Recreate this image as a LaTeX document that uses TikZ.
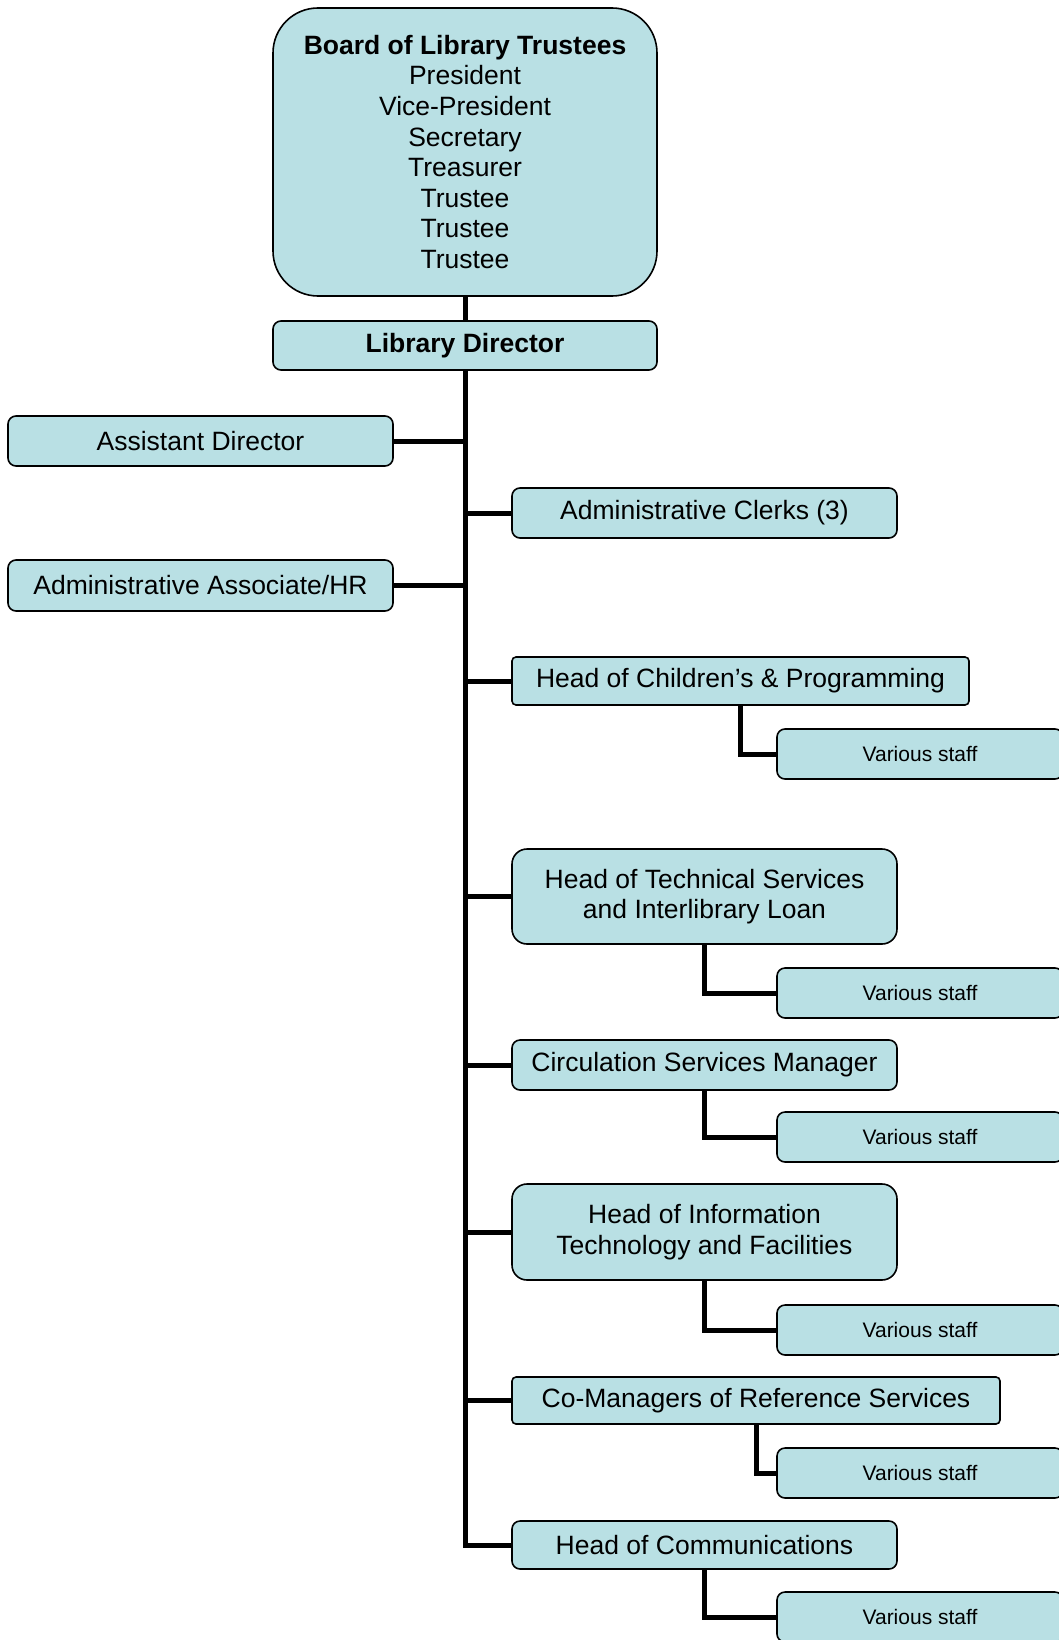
\documentclass[tikz,border=0pt]{standalone}
\usepackage{fontspec}
\setmainfont{Liberation Sans}
\usetikzlibrary{positioning}
\definecolor{boxblue}{RGB}{185,224,228}

\begin{document}
\begin{tikzpicture}[x=1pt, y=-1pt,
  box/.style={draw, fill=boxblue, line width=1.6pt, rounded corners=8pt, inner sep=0pt,
    align=center, font=\fontsize{26.5}{30.6}\selectfont},
  staffbox/.style={box, minimum width=286pt, minimum height=50pt, font=\fontsize{21}{24}\selectfont},
  link/.style={line width=5pt}]
\useasboundingbox (0,0) rectangle (1059,1640);

\node[box, rounded corners=45pt, minimum width=384pt, minimum height=288pt] (board) at (465,152)
  {\textbf{Board of Library Trustees}\\President\\Vice-President\\Secretary\\Treasurer\\Trustee\\Trustee\\Trustee};
\node[box, minimum width=384pt, minimum height=49pt] (director) at (465,345.5) {\textbf{Library Director}};

\node[box, minimum width=385pt, minimum height=50pt] (asst) at (200.5,441) {Assistant Director};
\node[box, minimum width=385pt, minimum height=50pt] (clerks) at (704.5,513) {Administrative Clerks (3)};
\node[box, minimum width=385pt, minimum height=51pt] (assoc) at (200.5,585.5) {Administrative Associate/HR};

\node[box, rounded corners=4pt, minimum width=457pt, minimum height=48pt] (children) at (740.5,681) {Head of Children’s \& Programming};
\node[staffbox] (staffa) at (920,754) {Various staff};

\node[box, rounded corners=15pt, minimum width=385pt, minimum height=95pt] (tech) at (704.5,896.5) {Head of Technical Services\\and Interlibrary Loan};
\node[staffbox] (staffb) at (920,993) {Various staff};

\node[box, minimum width=385pt, minimum height=50pt] (circ) at (704.5,1065) {Circulation Services Manager};
\node[staffbox] (staffc) at (920,1137) {Various staff};

\node[box, rounded corners=15pt, minimum width=385pt, minimum height=96pt] (infotech) at (704.5,1232) {Head of Information\\Technology and Facilities};
\node[staffbox] (staffd) at (920,1330) {Various staff};

\node[box, rounded corners=4pt, minimum width=488pt, minimum height=47pt] (reference) at (756,1400.5) {Co-Managers of Reference Services};
\node[staffbox] (staffe) at (920,1473) {Various staff};

\node[box, minimum width=385pt, minimum height=48pt] (comm) at (704.5,1545) {Head of Communications};
\node[staffbox] (stafff) at (920,1617) {Various staff};

\draw[link] (board.south) -- (director.north);
\draw[link] (director.south) |- (comm.west);
\draw[link] (asst.east) -- (asst.east -| director.south);
\draw[link] (clerks.west) -- (clerks.west -| director.south);
\draw[link] (assoc.east) -- (assoc.east -| director.south);
\draw[link] (children.west) -- (children.west -| director.south);
\draw[link] (tech.west) -- (tech.west -| director.south);
\draw[link] (circ.west) -- (circ.west -| director.south);
\draw[link] (infotech.west) -- (infotech.west -| director.south);
\draw[link] (reference.west) -- (reference.west -| director.south);

\draw[link] (children.south) |- (staffa.west);
\draw[link] (tech.south) |- (staffb.west);
\draw[link] (circ.south) |- (staffc.west);
\draw[link] (infotech.south) |- (staffd.west);
\draw[link] (reference.south) |- (staffe.west);
\draw[link] (comm.south) |- (stafff.west);

\end{tikzpicture}
\end{document}
